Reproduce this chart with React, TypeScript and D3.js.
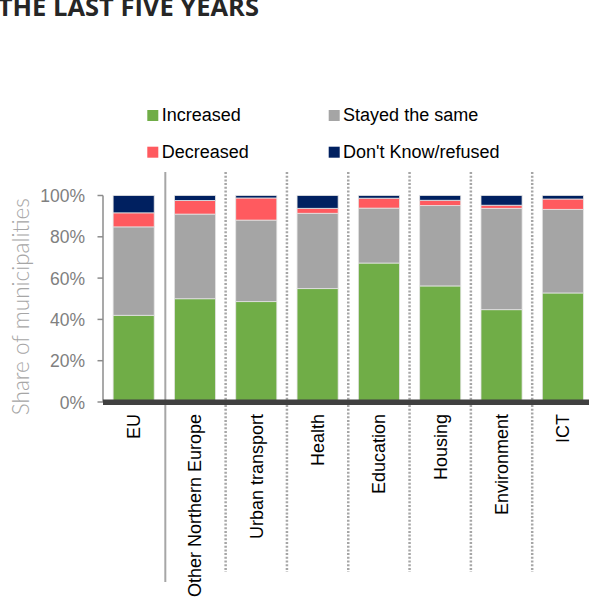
import React from "react";
import * as d3 from "d3";

const categories = ["EU", "Other Northern Europe", "Urban transport", "Health", "Education", "Housing", "Environment", "ICT"];
const increased = [42, 50, 48.6, 54.9, 67.3, 56.2, 44.7, 52.8];
const stayedSame = [42.8, 41, 39.5, 36.5, 26.6, 38.9, 49.1, 40.5];
const decreased = [6.8, 6.6, 10.7, 2.4, 4.8, 2.6, 1.5, 5];
const dontKnow = [8.4, 2.4, 1.2, 6.2, 1.3, 2.3, 4.7, 1.7];
const seriesNames = ["Increased", "Stayed the same", "Decreased", "Don't Know/refused"];
const seriesColors = ["#70AD47", "#A5A5A5", "#FF5A5F", "#002060"];
const yTicks = [0, 20, 40, 60, 80, 100];

const W = 589;
const H = 601;
const FONT = "'Liberation Sans', Arial, sans-serif";

export default function App() {
  const x = d3.scaleBand<string>().domain(categories).range([103, 593.5]).paddingInner(0.33).paddingOuter(0.165);
  const y = d3.scaleLinear().domain([0, 100]).range([402, 195.5]);
  const rows = categories.map((c, i) => ({
    cat: c,
    s0: increased[i],
    s1: stayedSame[i],
    s2: decreased[i],
    s3: dontKnow[i],
  }));
  const stack = d3.stack<any>().keys(["s0", "s1", "s2", "s3"])(rows);
  const step = x.step();
  const bw = x.bandwidth();
  const boundaries = categories.slice(1).map((c) => (x(c) as number) - (step - bw) / 2);

  const legendPos = [
    { x: 147.3, y: 110 },
    { x: 328.7, y: 110 },
    { x: 147.3, y: 146.7 },
    { x: 328.7, y: 146.7 },
  ];

  return (
    <svg width={W} height={H} style={{ position: "absolute", left: 0, top: 0, background: "#fff" }}>
      <text x={259} y={16} textAnchor="end" fontFamily="'Open Sans', sans-serif" fontWeight={700} fontSize={25.5} fill="#262626">
        THE LAST FIVE YEARS
      </text>

      {/* legend */}
      {seriesNames.map((n, i) => (
        <g key={n}>
          <rect x={legendPos[i].x} y={legendPos[i].y} width={11} height={11} fill={seriesColors[i]} />
          <text x={legendPos[i].x + 14.4} y={legendPos[i].y + 11} fontFamily={FONT} fontSize={18} fill="#000">
            {n}
          </text>
        </g>
      ))}

      {/* separators */}
      {boundaries.map((bx, i) =>
        i === 0 ? (
          <line key={i} x1={bx + 1} x2={bx + 1} y1={172} y2={582} stroke="#A6A6A6" strokeWidth={2} />
        ) : (
          <line key={i} x1={bx} x2={bx} y1={172} y2={572} stroke="#A6A6A6" strokeWidth={2.5} strokeDasharray="2 1.7" />
        )
      )}

      {/* bars */}
      {stack.map((layer, si) => (
        <g key={si} fill={seriesColors[si]}>
          {layer.map((d: any, i: number) => (
            <rect
              key={i}
              x={x(categories[i])}
              width={bw}
              y={y(d[1])}
              height={y(d[0]) - y(d[1])}
              stroke="#E4E4E4"
              strokeWidth={0.8}
            />
          ))}
        </g>
      ))}

      {/* y axis */}
      <line x1={103} x2={103} y1={195.5} y2={402} stroke="#8C8C8C" strokeWidth={1.5} />
      {yTicks.map((t) => (
        <g key={t}>
          <line x1={97.5} x2={103} y1={y(t)} y2={y(t)} stroke="#8C8C8C" strokeWidth={1.5} />
          <text x={85} y={y(t)} dy="0.38em" textAnchor="end" fontFamily={FONT} fontSize={17.5} fill="#808080">
            {t}%
          </text>
        </g>
      ))}
      <text
        transform={`translate(29,${(201.7 + 411.7) / 2}) rotate(-90)`}
        textAnchor="middle"
        fontFamily="Lato, 'Open Sans', sans-serif"
        fontWeight={300}
        fontSize={22.5}
        fill="#A6A6A6"
      >
        Share of municipalities
      </text>

      {/* x axis */}
      <line x1={103} x2={W} y1={402.2} y2={402.2} stroke="#404040" strokeWidth={5.5} />
      {categories.map((c) => (
        <text
          key={c}
          transform={`translate(${(x(c) as number) + bw / 2},414) rotate(-90)`}
          textAnchor="end"
          dy="0.35em"
          fontFamily={FONT}
          fontSize={18}
          fill="#000"
        >
          {c}
        </text>
      ))}
    </svg>
  );
}
